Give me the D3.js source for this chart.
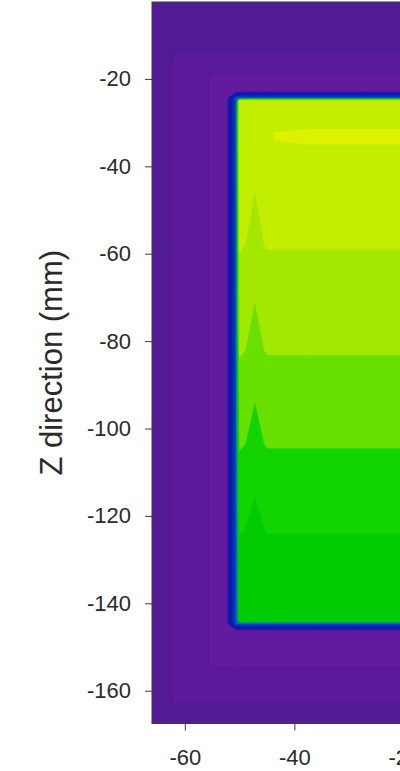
<!DOCTYPE html>
<html>
<head>
<meta charset="utf-8">
<script src="https://d3js.org/d3.v7.min.js"></script>
<style>
  body { margin: 0; background: #ffffff; }
  svg { display: block; }
  .as text { font-family: "Liberation Sans", Arial, sans-serif; font-size: 22px; fill: #2a2a2a; }
  .as path, .as line { stroke: #3a3a3a; }
  .titelAs { font-family: "Liberation Sans", Arial, sans-serif; font-size: 31px; fill: #2a2a2a; }
</style>
</head>
<body>
<div id="grafiekContainer"></div>
<script>

// roosterpunten van de meting (mm)
var xKnopen = [-70, -61.8, -55.2, -52.3, -50.6, -50.0, -47.2, -45.0, -38, -28, -8];
var zKnopen = [2, -15.2, -19, -22.9, -24.4, -25.0, -32.3, -34.0, -45.4, -58.0, -60.2,
               -70.6, -82.1, -84.3, -93.5, -103.4, -105.6, -115, -123, -125,
               -144.0, -144.6, -146.2, -154.1, -162.1, -172];

// gemeten waarden per rij (z) en kolom (x)
var waarden = [
  [0.3, 0.3, 0.3, 0.3, 0.3, 0.3, 0.3, 0.3, 0.3, 0.3, 0.3],
  [0.3, 1.05, 1.05, 1.05, 1.05, 1.05, 1.05, 1.05, 1.05, 1.05, 1.05],
  [0.3, 1.05, 2.05, 2.05, 2.05, 2.05, 2.05, 2.05, 2.05, 2.05, 2.05],
  [0.3, 1.05, 2.05, 2.6, 2.6, 2.6, 2.6, 2.6, 2.6, 2.6, 2.6],
  [0.3, 1.05, 2.05, 2.6, 9, 9, 9, 9, 9, 9, 9],
  [0.3, 1.05, 2.05, 2.6, 9, 14.6, 14.6, 14.6, 14.6, 14.6, 14.6],
  [0.3, 1.05, 2.05, 2.6, 9, 14.7, 14.7, 14.99, 15.05, 15.05, 15.05],
  [0.3, 1.05, 2.05, 2.6, 9, 14.7, 14.7, 14.99, 15.05, 15.05, 15.05],
  [0.3, 1.05, 2.05, 2.6, 9, 14.5, 14.02, 14.45, 14.45, 14.45, 14.45],
  [0.3, 1.05, 2.05, 2.6, 9, 14.3, 13.5, 14.15, 14.15, 14.15, 14.15],
  [0.3, 1.05, 2.05, 2.6, 9, 13.9, 13.3, 13.85, 13.85, 13.85, 13.85],
  [0.3, 1.05, 2.05, 2.6, 9, 13.6, 13.02, 13.5, 13.5, 13.5, 13.5],
  [0.3, 1.05, 2.05, 2.6, 9, 13.3, 12.5, 13.15, 13.15, 13.15, 13.15],
  [0.3, 1.05, 2.05, 2.6, 9, 12.9, 12.3, 12.85, 12.85, 12.85, 12.85],
  [0.3, 1.05, 2.05, 2.6, 9, 12.6, 12.02, 12.5, 12.5, 12.5, 12.5],
  [0.3, 1.05, 2.05, 2.6, 9, 12.3, 11.5, 12.15, 12.15, 12.15, 12.15],
  [0.3, 1.05, 2.05, 2.6, 9, 11.9, 11.3, 11.85, 11.85, 11.85, 11.85],
  [0.3, 1.05, 2.05, 2.6, 9, 11.6, 11.02, 11.5, 11.5, 11.5, 11.5],
  [0.3, 1.05, 2.05, 2.6, 9, 11.2, 10.6, 11.1, 11.1, 11.1, 11.1],
  [0.3, 1.05, 2.05, 2.6, 9, 10.9, 10.5, 10.9, 10.9, 10.9, 10.9],
  [0.3, 1.05, 2.05, 2.6, 9, 10.6, 10.4, 10.6, 10.6, 10.6, 10.6],
  [0.3, 1.05, 2.05, 2.6, 9, 9, 9, 9, 9, 9, 9],
  [0.3, 1.05, 2.05, 2.6, 2.6, 2.6, 2.6, 2.6, 2.6, 2.6, 2.6],
  [0.3, 1.05, 2.05, 2.05, 2.05, 2.05, 2.05, 2.05, 2.05, 2.05, 2.05],
  [0.3, 1.05, 1.05, 1.05, 1.05, 1.05, 1.05, 1.05, 1.05, 1.05, 1.05],
  [0.3, 0.3, 0.3, 0.3, 0.3, 0.3, 0.3, 0.3, 0.3, 0.3, 0.3]
];

// contourniveaus en kleuren (eerste kleur = onder het laagste niveau)
var niveaus = [1, 2, 3, 4.5, 6.5, 8.5, 9.5, 10, 11, 12, 13, 14, 15];
var kleuren = ["#531a96", "#5a1a9b", "#621a9f", "#2418a8", "#0c1aae", "#0034c4",
               "#0064b8", "#00a860", "#00cc00", "#12d500", "#68e000", "#a2e800",
               "#c2ee00", "#dcf200"];

var zTicks = [-20, -40, -60, -80, -100, -120, -140, -160];
var xTicks = [-60, -40, -20];

var breedte = 400;
var hoogte = 771;

// marges vast leggen
var marge = {boven: 2, links: 152};
var grafiekOnder = 723.5;

// maak een SVG element
var svg = d3.select("#grafiekContainer")
            .append("svg")
            .attr("width", breedte)
            .attr("height", hoogte);

// schaalfuncties voor x en z
var x = d3.scaleLinear()
          .domain([-66, -10])
          .range([marge.links, marge.links + 56 * 5.475]);

var y = d3.scaleLinear()
          .domain([-2.4, -167.5])
          .range([marge.boven, grafiekOnder]);

// van roosterindex naar mm
var xIndex = d3.scaleLinear().domain(d3.range(xKnopen.length)).range(xKnopen);
var zIndex = d3.scaleLinear().domain(d3.range(zKnopen.length)).range(zKnopen);

var projectie = d3.geoTransform({
  point: function(gx, gy) {
    this.stream.point(x(xIndex(gx - 0.5)), y(zIndex(gy - 0.5)));
  }
});
var pad = d3.geoPath(projectie);

// clip op het grafiekvlak
svg.append("clipPath")
   .attr("id", "vlak")
   .append("rect")
   .attr("x", marge.links)
   .attr("y", marge.boven)
   .attr("width", breedte - marge.links + 60)
   .attr("height", grafiekOnder - marge.boven);

var vlak = svg.append("g").attr("clip-path", "url(#vlak)");

vlak.append("rect")
    .attr("x", marge.links)
    .attr("y", marge.boven)
    .attr("width", breedte - marge.links + 60)
    .attr("height", grafiekOnder - marge.boven)
    .attr("fill", kleuren[0]);

// contouren berekenen
var contouren = d3.contours()
                  .size([xKnopen.length, zKnopen.length])
                  .thresholds(niveaus)(waarden.flat());

vlak.selectAll("path")
    .data(contouren)
    .enter()
    .append("path")
    .attr("d", pad)
    .attr("fill", function(d, i) { return kleuren[i + 1]; })
    .attr("stroke", function(d, i) { return kleuren[i + 1]; })
    .attr("stroke-width", 0.4);

// kader
svg.append("rect")
   .attr("x", marge.links)
   .attr("y", marge.boven)
   .attr("width", breedte)
   .attr("height", grafiekOnder - marge.boven)
   .attr("fill", "none")
   .attr("stroke", "#3a3a3a")
   .attr("stroke-width", 1);

// y-as
svg.append("g")
   .attr("class", "as")
   .attr("transform", "translate(" + marge.links + ",0)")
   .call(d3.axisLeft(y).tickValues(zTicks).tickFormat(function(d) { return d; })
           .tickSize(7).tickPadding(14).tickSizeOuter(0))
   .call(function(g) { g.select(".domain").remove(); });

// x-as
svg.append("g")
   .attr("class", "as")
   .attr("transform", "translate(0," + grafiekOnder + ")")
   .call(d3.axisBottom(x).tickValues(xTicks).tickFormat(function(d) { return d; })
           .tickSize(7).tickPadding(19).tickSizeOuter(0))
   .call(function(g) { g.select(".domain").remove(); });

// titel y-as
svg.append("text")
   .attr("class", "titelAs")
   .attr("transform", "translate(62," + ((marge.boven + grafiekOnder) / 2) + ") rotate(-90)")
   .attr("text-anchor", "middle")
   .text("Z direction (mm)");

</script>
</body>
</html>
